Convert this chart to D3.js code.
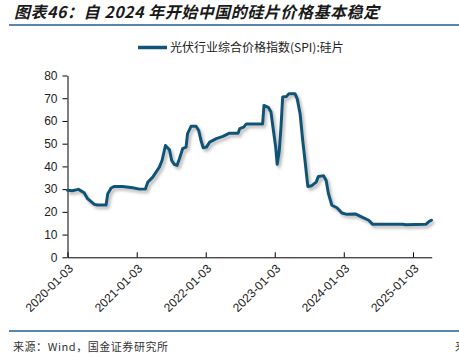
<!DOCTYPE html>
<html><head><meta charset="utf-8">
<script src="https://cdn.jsdelivr.net/npm/d3@7"></script>
<style>
html,body{margin:0;padding:0;background:#fff;overflow:hidden;}
svg{display:block;}
</style></head>
<body>
<script>
const titleText = "图表46：自 2024 年开始中国的硅片价格基本稳定";
const legendLabel = "光伏行业综合价格指数(SPI):硅片";
const sourceText = "来源：Wind，国金证券研究所";
const xTickLabels = ["2020-01-03","2021-01-03","2022-01-03","2023-01-03","2024-01-03","2025-01-03"];
const yTicks = [0,10,20,30,40,50,60,70,80];
const dates = ["2020-01-03","2020-01-28","2020-03-01","2020-03-31","2020-04-18","2020-05-24","2020-06-09","2020-07-25","2020-08-03","2020-08-21","2020-09-07","2020-10-20","2020-12-12","2021-01-18","2021-02-18","2021-03-03","2021-03-29","2021-05-03","2021-05-17","2021-06-04","2021-06-25","2021-07-07","2021-07-21","2021-08-04","2021-08-17","2021-09-03","2021-09-21","2021-09-29","2021-10-18","2021-11-13","2021-11-27","2021-12-09","2021-12-21","2022-01-07","2022-01-24","2022-02-28","2022-04-04","2022-05-09","2022-06-23","2022-07-02","2022-07-23","2022-08-06","2022-10-31","2022-11-07","2022-11-30","2022-12-14","2022-12-27","2023-01-08","2023-01-16","2023-01-27","2023-02-05","2023-02-14","2023-03-07","2023-03-19","2023-04-20","2023-05-02","2023-05-17","2023-05-31","2023-06-12","2023-06-27","2023-07-18","2023-08-10","2023-08-22","2023-09-18","2023-10-02","2023-10-14","2023-11-01","2023-11-28","2023-12-24","2024-01-20","2024-03-04","2024-03-31","2024-05-14","2024-06-04","2024-11-08","2024-11-26","2025-03-12","2025-03-30","2025-04-11"];
const values = [29.5,29.3,29.9,28.4,25.8,23.3,23,23,28,30.5,31.2,31.2,30.6,30,30.1,33.1,35.3,39.7,42.6,49.2,47.3,42.6,40.9,40.4,43.4,47.8,48.5,54.4,57.7,57.7,55.8,51.4,48.2,48.5,50.7,52.2,53.2,54.6,54.6,56.6,57.3,58.7,58.7,66.8,66,63.9,55.8,48.5,40.9,47,57.3,70.5,70.8,72,72,69.7,63.2,51.4,42.6,31.2,31.5,33.1,35.6,35.9,33.8,28,22.9,21.8,19.5,18.9,19.1,18,16.3,14.5,14.5,14.3,14.5,15.8,16.3];

const W = 459, H = 357;
const parse = d3.timeParse("%Y-%m-%d");
const data = dates.map((d,i)=>({date:parse(d), value:values[i]}));

const svg = d3.select("body").append("svg").attr("width",W).attr("height",H);
const defs = svg.append("defs");
const f = defs.append("filter").attr("id","sh").attr("x","-10%").attr("y","-10%").attr("width","130%").attr("height","130%");
f.append("feDropShadow").attr("dx",2).attr("dy",2.5).attr("stdDeviation",1.5).attr("flood-color","#777").attr("flood-opacity",0.55);

// title
svg.append("text").attr("x",14).attr("y",18).text(titleText)
  .attr("font-family","'Noto Sans CJK SC'").attr("font-size",16).attr("font-weight","bold")
  .attr("font-style","italic").attr("fill","#1a1a1a").attr("textLength",365).attr("lengthAdjust","spacing");
svg.append("line").attr("x1",9).attr("x2",W).attr("y1",25).attr("y2",25).attr("stroke","#5a86ad").attr("stroke-width",2);

// legend
svg.append("line").attr("x1",138).attr("x2",167).attr("y1",47.5).attr("y2",47.5).attr("stroke","#0e5478").attr("stroke-width",3.5);
svg.append("text").attr("x",170).attr("y",52).text(legendLabel)
  .attr("font-family","'Noto Sans CJK SC'").attr("font-size",12).attr("fill","#222");

const x = d3.scaleTime().domain([parse("2020-01-03"), parse("2025-04-12")]).range([67.5, 431.7]);
const y = d3.scaleLinear().domain([0,80]).range([257.3, 75.5]);

// y axis
const ya = svg.append("g").attr("transform","translate(67.5,0)")
  .call(d3.axisLeft(y).tickValues(yTicks).tickSize(5).tickSizeOuter(0));
ya.select(".domain").attr("stroke","#000");
ya.selectAll("text").attr("font-family","'Liberation Sans',Arial").attr("font-size",12).attr("fill","#222").attr("dx","-2");

// x axis
const xa = svg.append("g").attr("transform","translate(0,257.3)")
  .call(d3.axisBottom(x).tickValues(xTickLabels.map(parse)).tickSize(-5).tickSizeOuter(0).tickFormat(d3.timeFormat("%Y-%m-%d")));
xa.select(".domain").attr("stroke","#000");
xa.selectAll(".tick line").attr("stroke","#000");
xa.selectAll("text").attr("font-family","'Liberation Sans',Arial").attr("font-size",12).attr("fill","#222")
  .attr("text-anchor","end").attr("transform","translate(3,9) rotate(-45)").attr("dy","0.35em").attr("y",0);

// line
const line = d3.line().x(d=>x(d.date)).y(d=>y(d.value)).curve(d3.curveLinear);
svg.append("path").datum(data).attr("d",line).attr("fill","none").attr("stroke","#0e5478")
  .attr("stroke-width",3).attr("stroke-linejoin","round").attr("stroke-linecap","round").attr("filter","url(#sh)");

// footer
svg.append("line").attr("x1",9).attr("x2",W).attr("y1",331).attr("y2",331).attr("stroke","#5a86ad").attr("stroke-width",2);
svg.append("text").attr("x",13).attr("y",351).text(sourceText)
  .attr("font-family","'Noto Sans CJK SC'").attr("font-size",11).attr("fill","#333")
  .attr("textLength",155).attr("lengthAdjust","spacing");
svg.append("text").attr("x",455).attr("y",351).text("来")
  .attr("font-family","'Noto Sans CJK SC'").attr("font-size",11).attr("fill","#333");
</script>
</body></html>
